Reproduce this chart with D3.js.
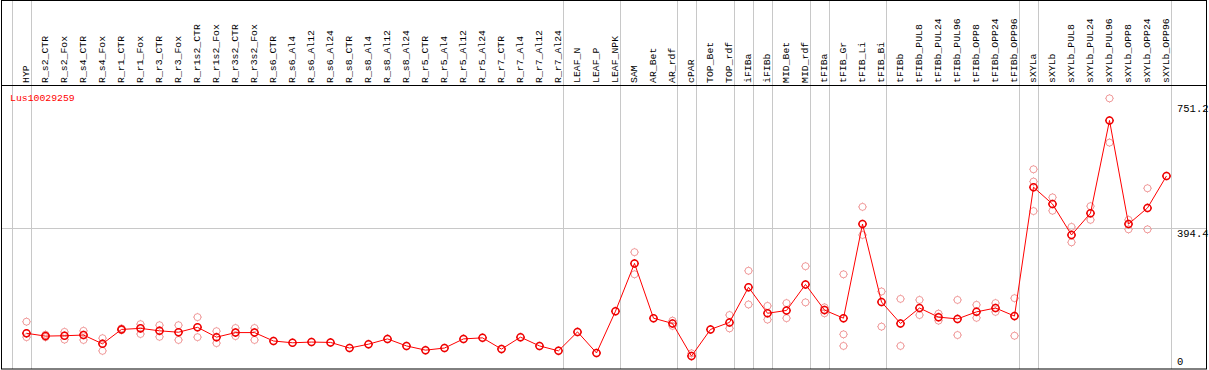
<!DOCTYPE html>
<html>
<head>
<meta charset="utf-8">
<script src="https://cdn.jsdelivr.net/npm/d3@7"></script>
<style>
  body { margin: 0; background: #fff; }
  svg { display: block; }
  text { font-family: "Liberation Mono", "DejaVu Sans Mono", monospace; }
</style>
</head>
<body>
<div class="displayArea"></div>
<script>
// column labels (samples)
const samples = ["HYP","R_s2_CTR","R_s2_Fox","R_s4_CTR","R_s4_Fox","R_r1_CTR","R_r1_Fox","R_r3_CTR","R_r3_Fox",
  "R_r1s2_CTR","R_r1s2_Fox","R_r3s2_CTR","R_r3s2_Fox","R_s6_CTR","R_s6_Al4","R_s6_Al12","R_s6_Al24",
  "R_s8_CTR","R_s8_Al4","R_s8_Al12","R_s8_Al24","R_r5_CTR","R_r5_Al4","R_r5_Al12","R_r5_Al24",
  "R_r7_CTR","R_r7_Al4","R_r7_Al12","R_r7_Al24","LEAF_N","LEAF_P","LEAF_NPK","SAM","AR_Bet","AR_rdf",
  "cPAR","TOP_Bet","TOP_rdf","iFIBa","iFIBb","MID_Bet","MID_rdf","tFIBa","tFIB_Gr","tFIB_Li","tFIB_Bi",
  "tFIBb","tFIBb_PUL8","tFIBb_PUL24","tFIBb_PUL96","tFIBb_OPP8","tFIBb_OPP24","tFIBb_OPP96",
  "sXYLa","sXYLb","sXYLb_PUL8","sXYLb_PUL24","sXYLb_PUL96","sXYLb_OPP8","sXYLb_OPP24","sXYLb_OPP96"];

// mean expression per sample
const means = [96,88,89,91,66,107,110,103,99,113,85,98,98,74,69,71,70,54,65,80,60,48,54,80,83,51,85,60,46,
  100,40,159,295,139,124,31,107,127,227,153,161,235,162,139,407,185,124,168,142,137,157,168,145,
  512,464,376,438,702,407,453,544];

// replicate values per sample
const reps = [[129,85,96],[92,85],[100,78],[103,77],[82,46],[105,110],[122,94],[119,86],[119,77],[142,85],[102,68],[111,88],[111,77],
  [],[],[],[],[],[],[],[],[],[],[],[],[],[],[],[],
  [],[],[],[327,264],[],[132,117],[39],[],[148,110],[274,178],[174,135],[182,139],[287,184],[170,153],[264,93,60],
  [456,376],[215,115],[194,60],[191,148],[152,132],[191,91],[177,140],[182,157],[196,89],
  [563,528,444],[483,445],[399,355],[458,419],[765,639],[419,392],[509,392],[]];

const groupEnds = ["HYP","R_r7_Al24","LEAF_NPK","AR_rdf","cPAR","TOP_rdf","iFIBa","iFIBb","MID_rdf","tFIBa",
  "tFIB_Bi","tFIBb_OPP96","sXYLa","sXYLb_OPP96"];
const yTicks = [0, 394.4, 751.2];
const geneName = "Lus10029259";

const W = 1209, H = 370,
  plotL = 1, plotR = 1207, plotT = 0, plotB = 369,
  headerY = 85;

const svg = d3.select(".displayArea").append("svg")
  .attr("width", W).attr("height", H);

const xScale = d3.scalePoint().domain(samples).range([26.5, 1166.5]);
const step = xScale.step();
const yScale = d3.scaleLinear().domain([0, 803]).range([367, headerY]);

// vertical separators
const sepX = [xScale(samples[0]) - step + 4].concat(groupEnds.map(s => xScale(s) + 4));
svg.append("g").selectAll("line").data(sepX).join("line")
  .attr("x1", d => Math.round(d) + 0.5).attr("x2", d => Math.round(d) + 0.5)
  .attr("y1", plotT).attr("y2", plotB)
  .attr("stroke", "#c8c8c8").attr("stroke-width", 1);

// horizontal grid at middle tick
svg.append("line")
  .attr("x1", plotL).attr("x2", plotR)
  .attr("y1", Math.round(yScale(394.4)) + 0.5).attr("y2", Math.round(yScale(394.4)) + 0.5)
  .attr("stroke", "#c8c8c8");

// header line and border
svg.append("line").attr("x1", plotL).attr("x2", plotR)
  .attr("y1", headerY + 0.5).attr("y2", headerY + 0.5).attr("stroke", "#000");
svg.append("rect").attr("x", plotL + 0.5).attr("y", plotT + 0.5)
  .attr("width", plotR - plotL - 1).attr("height", plotB - plotT - 0.5)
  .attr("fill", "none").attr("stroke", "#000");

// rotated sample labels
svg.append("g").selectAll("text").data(samples).join("text")
  .attr("transform", d => `translate(${xScale(d) + 2},83) rotate(-90)`)
  .attr("font-size", "9.8px").attr("fill", "#000")
  .text(d => d);

// right axis labels
const yAxis = d3.axisRight(yScale).tickValues(yTicks).tickSize(0).tickPadding(0)
  .tickFormat(d => d === 0 ? "0" : d3.format(".1f")(d));
const ax = svg.append("g").attr("transform", "translate(1177,0)").call(yAxis);
ax.select(".domain").remove();
ax.selectAll("text")
  .attr("font-family", "Liberation Mono, DejaVu Sans Mono, monospace").attr("font-size", "10.5px")
  .attr("fill", "#000").attr("text-anchor", "start")
  .attr("dy", d => d === 0 ? "-0.2em" : "0.8em");

// gene name
svg.append("text").attr("x", 10).attr("y", 101)
  .attr("font-size", "9.8px").attr("fill", "#ff0000").text(geneName);

// ring marker with tiny ticks at four sides
function marker(g, r, t) {
  g.append("circle").attr("r", r);
  g.append("path").attr("d", `M0,${-r-t}V${-r}M0,${r}V${r+t}M${-r-t},0H${-r}M${r},0H${r+t}`);
}

// replicate points
const repPts = [];
reps.forEach((arr, i) => arr.forEach(v => repPts.push({s: samples[i], v})));
svg.append("g").attr("fill", "none").attr("stroke", "#f09a9a").attr("stroke-width", 1)
  .selectAll("g").data(repPts).join("g")
  .attr("transform", d => `translate(${xScale(d.s)},${yScale(d.v)})`)
  .each(function () { marker(d3.select(this), 3.5, 0.8); });

// mean line
svg.append("path").datum(means)
  .attr("fill", "none").attr("stroke", "#ff0000").attr("stroke-width", 1)
  .attr("d", d3.line().x((d, i) => xScale(samples[i])).y(d => yScale(d)));

// mean points
svg.append("g").attr("fill", "none").attr("stroke", "#ee0000").attr("stroke-width", 1.5)
  .selectAll("g").data(means).join("g")
  .attr("transform", (d, i) => `translate(${xScale(samples[i])},${yScale(d)})`)
  .each(function () { marker(d3.select(this), 3.5, 0.8); });
</script>
</body>
</html>
